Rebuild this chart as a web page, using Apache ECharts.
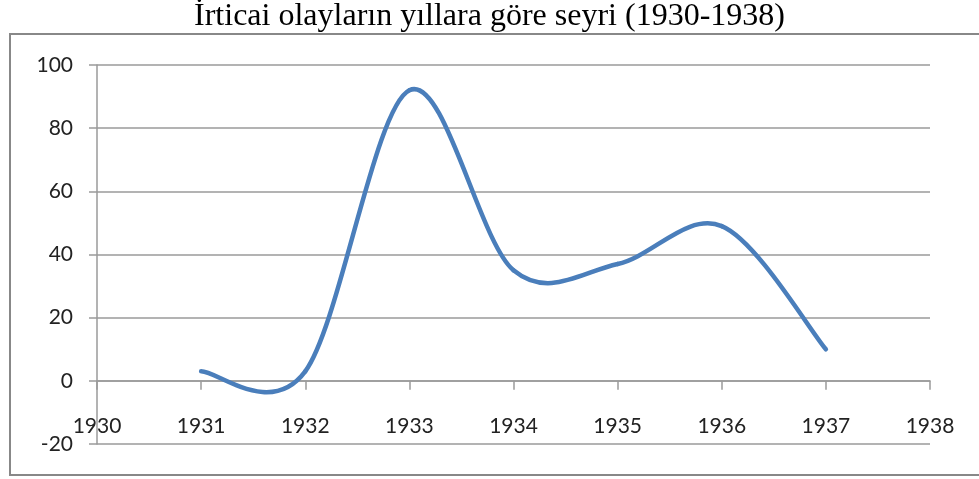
<!DOCTYPE html>
<html>
<head>
<meta charset="utf-8">
<script src="https://cdn.jsdelivr.net/npm/echarts@6/dist/echarts.min.js"></script>
<style>
  html, body { margin: 0; padding: 0; background: #fff; }
  #chart { width: 979px; height: 479px; }
</style>
</head>
<body>
<div id="chart"></div>
<script>
var titleText = 'İrticai olayların yıllara göre seyri (1930-1938)';
var years = [1931, 1932, 1933, 1934, 1935, 1936, 1937];
var values = [3, 3, 92, 35, 37, 49, 10];
var xMin = 1930, xMax = 1938, xStep = 1;
var yMin = -20, yMax = 100, yStep = 20;

(function() {
  var lineBlue = '#4a7ebb';
  var gridGray = '#9a9a9a';
  var ink = '#222';

  var points = years.map(function(y, i) { return [y, values[i]]; });

  // Excel-style spline: cubic Bezier segments with Catmull-Rom tangents
  function renderSpline(params, api) {
    if (params.dataIndex !== 0) return;
    var pts = points.map(function(p) { return api.coord(p); });
    var children = [];
    for (var i = 0; i < pts.length - 1; i++) {
      var p0 = pts[Math.max(i - 1, 0)];
      var p1 = pts[i];
      var p2 = pts[i + 1];
      var p3 = pts[Math.min(i + 2, pts.length - 1)];
      children.push({
        type: 'bezierCurve',
        shape: {
          x1: p1[0], y1: p1[1],
          cpx1: p1[0] + (p2[0] - p0[0]) / 6, cpy1: p1[1] + (p2[1] - p0[1]) / 6,
          cpx2: p2[0] - (p3[0] - p1[0]) / 6, cpy2: p2[1] - (p3[1] - p1[1]) / 6,
          x2: p2[0], y2: p2[1]
        },
        style: { fill: 'none', stroke: lineBlue, lineWidth: 4.5, lineCap: 'round' }
      });
    }
    return { type: 'group', children: children };
  }

  var chart = echarts.init(document.getElementById('chart'), null, { renderer: 'canvas' });
  chart.setOption({
    animation: false,
    title: {
      text: titleText,
      left: 'center',
      top: -4,
      textStyle: { fontFamily: 'Liberation Serif', fontSize: 32, fontWeight: 'normal', color: '#000' }
    },
    graphic: [{
      type: 'rect',
      shape: { x: 10, y: 34, width: 980, height: 441 },
      style: { fill: 'none', stroke: '#888', lineWidth: 2 }
    }],
    grid: { left: 97, right: 49, top: 65, bottom: 35, outerBoundsMode: 'none', containLabel: false },
    xAxis: {
      type: 'value',
      min: xMin, max: xMax, interval: xStep,
      axisLine: { show: true, onZero: true, lineStyle: { color: gridGray, width: 1.5 } },
      axisTick: { show: true, length: 9, lineStyle: { color: gridGray, width: 1.5 } },
      axisLabel: { margin: -28, color: ink, fontFamily: 'Lato', fontSize: 21, formatter: function(v) { return String(v); } },
      splitLine: { show: false }
    },
    yAxis: {
      type: 'value',
      min: yMin, max: yMax, interval: yStep,
      axisLine: { show: true, lineStyle: { color: gridGray, width: 1.5 } },
      axisTick: { show: true, length: 8, lineStyle: { color: gridGray, width: 1.5 } },
      axisLabel: { margin: 24, color: ink, fontFamily: 'Lato', fontSize: 21 },
      splitLine: { show: true, lineStyle: { color: gridGray, width: 1.5 } }
    },
    series: [{
      type: 'custom',
      data: points,
      renderItem: renderSpline,
      encode: { x: 0, y: 1 },
      clip: false
    }]
  });
})();
</script>
</body>
</html>
